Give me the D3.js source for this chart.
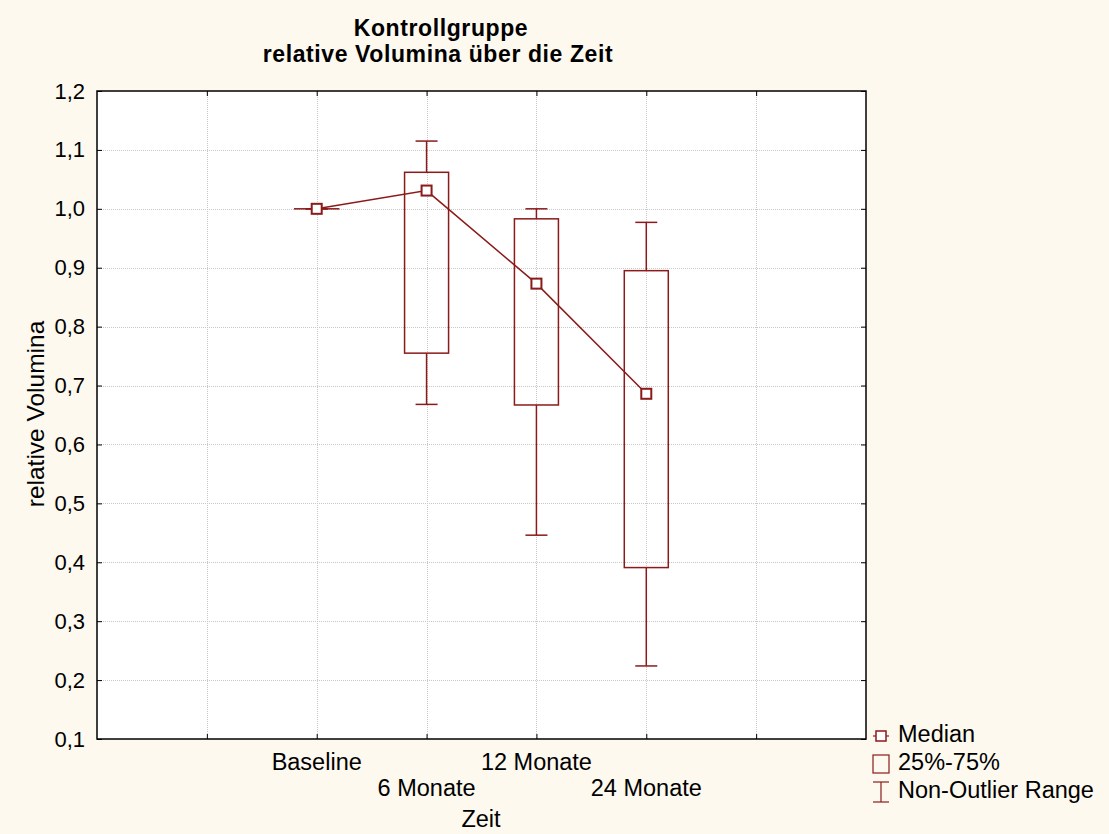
<!DOCTYPE html>
<html>
<head>
<meta charset="utf-8">
<script src="https://cdn.jsdelivr.net/npm/d3@7"></script>
<style>
  html, body { margin: 0; padding: 0; background: #fdf9ef; }
  svg { display: block; font-family: "Liberation Sans", Arial, sans-serif; }
</style>
</head>
<body>
<svg id="chart" width="1109" height="834"></svg>
<script>
// Zeitpunkte und Kennwerte der Kontrollgruppe
const categories = ["Baseline", "6 Monate", "12 Monate", "24 Monate"];
const medians    = [1.000, 1.031, 0.873, 0.686];
const q25        = [1.000, 0.755, 0.667, 0.391];
const q75        = [1.000, 1.062, 0.983, 0.895];
const whiskLow   = [1.000, 0.668, 0.446, 0.224];
const whiskHigh  = [1.000, 1.115, 1.000, 0.977];
const yTicks     = [0.1, 0.2, 0.3, 0.4, 0.5, 0.6, 0.7, 0.8, 0.9, 1.0, 1.1, 1.2];
const legendItems = ["Median", "25%-75%", "Non-Outlier Range"];

const red = "#8b1a1a";
const fsTick = 22, fsText = 23.5, fsTitle = 23;
const svg = d3.select("#chart");
const plot = { left: 97, right: 866, top: 91, bottom: 739 };

// Positionen 0..7: Kategorien auf 2..5, Gitter auf 1..6
const x = d3.scaleLinear().domain([0, 7]).range([plot.left, plot.right]);
const y = d3.scaleLinear().domain([0.1, 1.2]).range([plot.bottom, plot.top]);
const pos = i => x(i + 2);
const fmt = v => d3.format(".1f")(v).replace(".", ",");

// Hintergrund der Plotfläche
svg.append("rect")
  .attr("x", plot.left).attr("y", plot.top)
  .attr("width", plot.right - plot.left).attr("height", plot.bottom - plot.top)
  .attr("fill", "#ffffff");

// Gitterlinien
const grid = svg.append("g").attr("stroke", "#c8c8c8").attr("stroke-width", 1).attr("stroke-dasharray", "1,1");
yTicks.slice(1, -1).forEach(t => {
  grid.append("line").attr("x1", plot.left).attr("x2", plot.right)
    .attr("y1", Math.round(y(t)) + 0.5).attr("y2", Math.round(y(t)) + 0.5);
});
d3.range(1, 7).forEach(t => {
  grid.append("line").attr("y1", plot.top).attr("y2", plot.bottom)
    .attr("x1", Math.round(x(t)) + 0.5).attr("x2", Math.round(x(t)) + 0.5);
});

// Achsen mit Teilstrichen nach innen
const axisStyle = g => {
  g.attr("font-size", fsTick).attr("font-family", null);
  g.select(".domain").remove();
  g.selectAll(".tick line").attr("stroke", "#000").attr("stroke-width", 1);
  g.selectAll("text").attr("fill", "#000");
};
svg.append("g").attr("transform", `translate(${plot.left},0)`)
  .call(d3.axisLeft(y).tickValues(yTicks).tickFormat(fmt).tickSizeInner(-5).tickSizeOuter(0).tickPadding(12))
  .call(axisStyle);
svg.append("g").attr("transform", `translate(${plot.right},0)`)
  .call(d3.axisRight(y).tickValues(yTicks).tickFormat("").tickSizeInner(-5).tickSizeOuter(0))
  .call(axisStyle);
svg.append("g").attr("transform", `translate(0,${plot.bottom})`)
  .call(d3.axisBottom(x).tickValues(d3.range(1, 7)).tickFormat("").tickSizeInner(-5).tickSizeOuter(0))
  .call(axisStyle);
svg.append("g").attr("transform", `translate(0,${plot.top})`)
  .call(d3.axisTop(x).tickValues(d3.range(1, 7)).tickFormat("").tickSizeInner(-5).tickSizeOuter(0))
  .call(axisStyle);

// Rahmen
svg.append("rect")
  .attr("x", plot.left).attr("y", plot.top)
  .attr("width", plot.right - plot.left).attr("height", plot.bottom - plot.top)
  .attr("fill", "none").attr("stroke", "#000").attr("stroke-width", 1.5);

// Kategorienbeschriftung, abwechselnd versetzt
svg.append("g").selectAll("text").data(categories).join("text")
  .attr("x", (d, i) => pos(i))
  .attr("y", (d, i) => i % 2 === 0 ? 770 : 796)
  .attr("text-anchor", "middle").attr("font-size", fsText).attr("fill", "#000")
  .text(d => d);

// Whisker, Boxen, Mediane
const boxW = 44, capW = 22;
const marks = svg.append("g").attr("stroke", red).attr("stroke-width", 1.5).attr("fill", "none");
categories.forEach((c, i) => {
  const cx = pos(i);
  marks.append("line").attr("x1", cx).attr("x2", cx).attr("y1", y(whiskHigh[i])).attr("y2", y(q75[i]));
  marks.append("line").attr("x1", cx).attr("x2", cx).attr("y1", y(q25[i])).attr("y2", y(whiskLow[i]));
  marks.append("line").attr("x1", cx - capW / 2).attr("x2", cx + capW / 2).attr("y1", y(whiskHigh[i])).attr("y2", y(whiskHigh[i]));
  marks.append("line").attr("x1", cx - capW / 2).attr("x2", cx + capW / 2).attr("y1", y(whiskLow[i])).attr("y2", y(whiskLow[i]));
  marks.append("rect").attr("x", cx - boxW / 2).attr("y", y(q75[i]))
    .attr("width", boxW).attr("height", Math.max(0.01, y(q25[i]) - y(q75[i])));
});

// Verbindungslinie der Mediane
svg.append("path")
  .attr("d", d3.line().x((d, i) => pos(i)).y(d => y(d))(medians))
  .attr("fill", "none").attr("stroke", red).attr("stroke-width", 1.5);

svg.append("g").selectAll("rect").data(medians).join("rect")
  .attr("x", (d, i) => pos(i) - 5).attr("y", d => y(d) - 5)
  .attr("width", 10).attr("height", 10)
  .attr("fill", "#fff").attr("stroke", red).attr("stroke-width", 2);

// Titel
svg.append("text").attr("x", 441).attr("y", 36).attr("text-anchor", "middle")
  .attr("font-size", fsTitle).attr("font-weight", "bold").attr("letter-spacing", 0.6)
  .attr("fill", "#000").text("Kontrollgruppe");
svg.append("text").attr("x", 438).attr("y", 62).attr("text-anchor", "middle")
  .attr("font-size", fsTitle).attr("font-weight", "bold").attr("letter-spacing", 0.6)
  .attr("fill", "#000").text("relative Volumina über die Zeit");

// Achsentitel
svg.append("text").attr("x", 481).attr("y", 827).attr("text-anchor", "middle")
  .attr("font-size", fsText).attr("fill", "#000").text("Zeit");
svg.append("text").attr("transform", "translate(44,414) rotate(-90)").attr("text-anchor", "middle")
  .attr("font-size", 24.5).attr("fill", "#000").text("relative Volumina");

// Legende
const lg = svg.append("g");
const lx = 881;
const ly = [736, 764, 792];
// Median-Symbol
lg.append("line").attr("x1", lx - 8).attr("x2", lx + 8).attr("y1", ly[0]).attr("y2", ly[0]).attr("stroke", red).attr("stroke-width", 1.2);
lg.append("rect").attr("x", lx - 5).attr("y", ly[0] - 5).attr("width", 10).attr("height", 10)
  .attr("fill", "#fff").attr("stroke", red).attr("stroke-width", 1.5);
// Box-Symbol
lg.append("rect").attr("x", lx - 8).attr("y", ly[1] - 9).attr("width", 16).attr("height", 18)
  .attr("fill", "none").attr("stroke", red).attr("stroke-width", 1.2);
// Whisker-Symbol
lg.append("line").attr("x1", lx - 8).attr("x2", lx + 8).attr("y1", ly[2] - 10).attr("y2", ly[2] - 10).attr("stroke", red).attr("stroke-width", 1.2);
lg.append("line").attr("x1", lx - 8).attr("x2", lx + 8).attr("y1", ly[2] + 10).attr("y2", ly[2] + 10).attr("stroke", red).attr("stroke-width", 1.2);
lg.append("line").attr("x1", lx).attr("x2", lx).attr("y1", ly[2] - 10).attr("y2", ly[2] + 10).attr("stroke", red).attr("stroke-width", 1.2);
lg.selectAll("text").data(legendItems).join("text")
  .attr("x", 898).attr("y", (d, i) => ly[i] + 6)
  .attr("font-size", fsText).attr("fill", "#000").text(d => d);
</script>
</body>
</html>
